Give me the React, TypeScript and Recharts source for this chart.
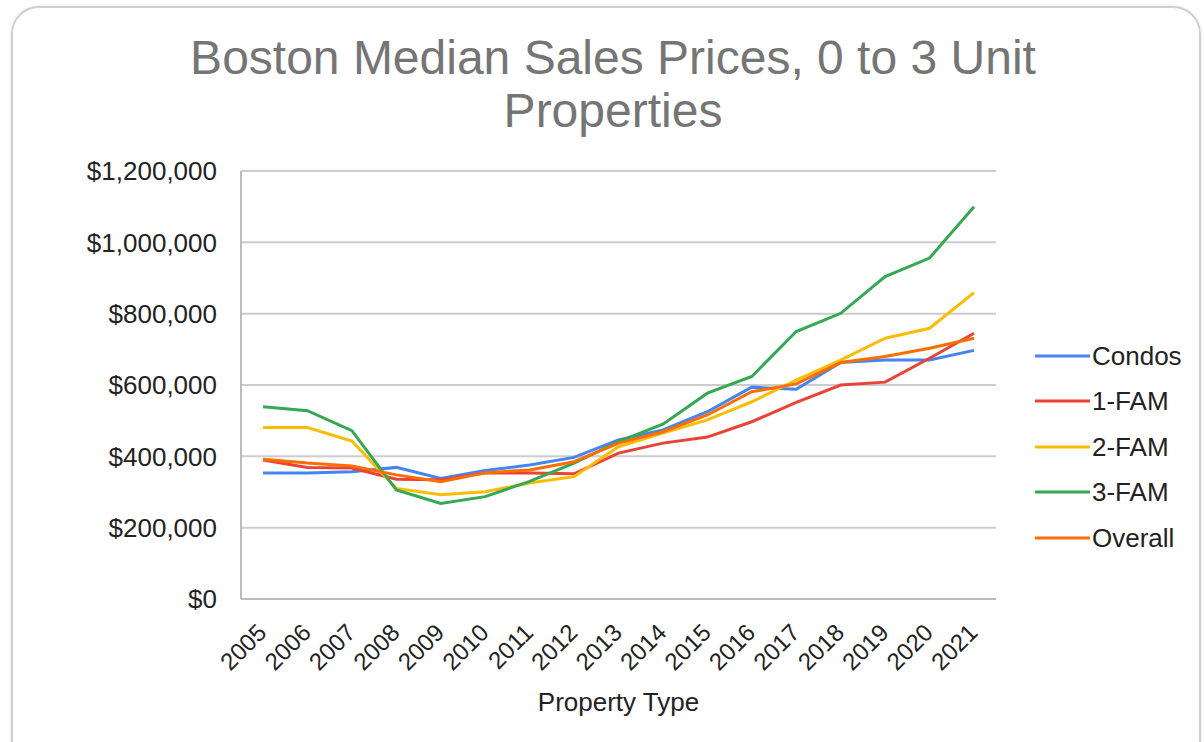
import React from 'react';
import { LineChart, Line, XAxis, YAxis, CartesianGrid } from 'recharts';

const years = ['2005','2006','2007','2008','2009','2010','2011','2012','2013','2014','2015','2016','2017','2018','2019','2020','2021'];
const condos = [353000,353000,357000,369000,338000,360000,376000,397000,446000,474000,525000,594000,588000,663000,670000,670000,697000];
const fam1 = [390000,369000,367000,336000,334000,353000,353000,351000,409000,437000,454000,497000,551000,600000,608000,675000,745000];
const fam2 = [481000,481000,443000,310000,292000,301000,325000,343000,427000,465000,502000,553000,614000,670000,731000,759000,859000];
const fam3 = [539000,528000,472000,306000,268000,287000,330000,381000,441000,490000,577000,624000,750000,801000,904000,956000,1100000];
const overall = [392000,381000,373000,348000,329000,354000,362000,385000,437000,469000,516000,581000,603000,663000,680000,703000,731000];
const yTicks = [0,200000,400000,600000,800000,1000000,1200000];

const seriesDefs = [
  { key: 'Condos', values: condos, color: '#4285F4' },
  { key: '1-FAM', values: fam1, color: '#EA4335' },
  { key: '2-FAM', values: fam2, color: '#FBBC04' },
  { key: '3-FAM', values: fam3, color: '#34A853' },
  { key: 'Overall', values: overall, color: '#FF6D01' },
];

const data = years.map((y, i) => {
  const row: any = { year: y };
  seriesDefs.forEach(s => { row[s.key] = s.values[i]; });
  return row;
});

const FONT = 'Liberation Sans, Arial, sans-serif';

const XTick = (props: any) => {
  const { x, y, payload } = props;
  const ax = x + 5;
  const ay = y + 35;
  return (
    <text x={ax} y={ay} textAnchor="end" fontSize={24} fill="#222" fontFamily={FONT}
      transform={`rotate(-45, ${ax}, ${ay})`}>{payload.value}</text>
  );
};

export default function App() {
  return (
    <div style={{ position: 'absolute', left: 0, top: 0, width: 1204, height: 742, overflow: 'hidden', background: '#fff' }}>
      <div style={{ position: 'absolute', left: 11, top: 6, width: 1186, height: 780, border: '2px solid #cfcfcf', borderRadius: 28, boxShadow: '0 0 3px rgba(0,0,0,0.12)' }} />
      <div style={{ position: 'absolute', left: 0, top: 31, width: 1226, textAlign: 'center', fontFamily: FONT, fontSize: 48, lineHeight: '53px', color: '#757575' }}>
        Boston Median Sales Prices, 0 to 3 Unit<br />Properties
      </div>
      <div style={{ position: 'absolute', left: 0, top: 0 }}>
        <LineChart width={1204} height={742} data={data} margin={{ top: 171, right: 208, bottom: 0, left: 0 }}>
          <CartesianGrid vertical={false} stroke="#cccccc" strokeWidth={2} />
          <XAxis dataKey="year" height={143} padding={{ left: 22, right: 22 }} tickLine={false} tickSize={0} tickMargin={0}
            axisLine={{ stroke: '#bbbbbb', strokeWidth: 2 }} tick={<XTick />} interval={0}
            label={{ value: 'Property Type', position: 'insideBottom', offset: 31, fill: '#222', fontSize: 26, fontFamily: FONT }} />
          <YAxis width={241} domain={[0, 1200000]} ticks={yTicks} tickLine={false} tickSize={0} tickMargin={24}
            axisLine={{ stroke: '#bbbbbb', strokeWidth: 2 }}
            tick={{ fill: '#222', fontSize: 26, fontFamily: FONT }}
            tickFormatter={(v: number) => '$' + v.toLocaleString('en-US')} />
          {seriesDefs.map(s => (
            <Line key={s.key} type="linear" dataKey={s.key} stroke={s.color} strokeWidth={3} dot={false} isAnimationActive={false} />
          ))}
        </LineChart>
      </div>
      <div style={{ position: 'absolute', left: 1035, top: 333, fontFamily: FONT }}>
        {seriesDefs.map(s => (
          <div key={s.key} style={{ display: 'flex', alignItems: 'center', height: 45.5 }}>
            <svg width={57} height={6} style={{ display: 'block' }}>
              <line x1={0} y1={3} x2={55} y2={3} stroke={s.color} strokeWidth={3} />
            </svg>
            <span style={{ fontSize: 26, color: '#222', lineHeight: '30px' }}>{s.key}</span>
          </div>
        ))}
      </div>
    </div>
  );
}
